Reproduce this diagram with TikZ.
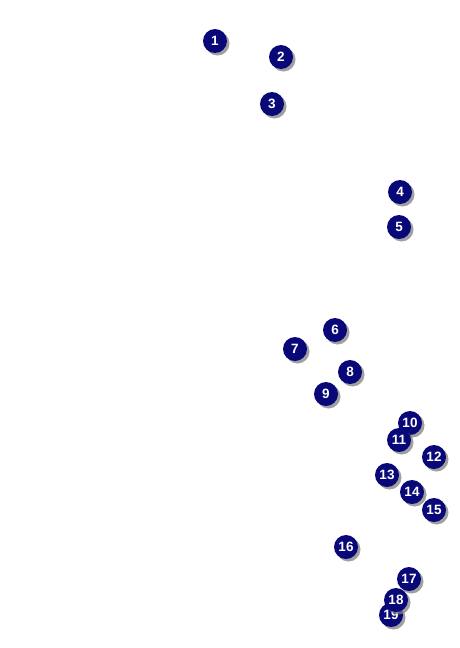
\documentclass[tikz,border=0pt]{standalone}
\usepackage{fontspec}
\setsansfont{Liberation Sans}
\usepackage{tikz}
\usetikzlibrary{shadows}

\begin{document}
\begin{tikzpicture}[
    x=1pt, y=-1pt,
    marker/.style = {circle, fill=navymark, inner sep=0pt, minimum size=24pt, text=white, font=\sffamily\bfseries\fontsize{13.5}{13.5}\selectfont, drop shadow={shadow xshift=2.5pt, shadow yshift=-2.5pt, fill=black!50, opacity=0.75}}
]
\definecolor{navymark}{RGB}{8,8,120}

\useasboundingbox (0,0) rectangle (459,648);

% Markers
\node (m1) [marker] at (215, 41) {1};
\node (m2) [marker] at (281, 57) {2};
\node (m3) [marker] at (272, 104) {3};
\node (m4) [marker] at (400, 192) {4};
\node (m5) [marker] at (399, 227) {5};
\node (m6) [marker] at (335, 330) {6};
\node (m7) [marker] at (295, 349) {7};
\node (m8) [marker] at (350, 372) {8};
\node (m9) [marker] at (326, 394) {9};
\node (m10) [marker] at (410, 423) {10};
\node (m11) [marker] at (399, 440) {11};
\node (m12) [marker] at (434, 457) {12};
\node (m13) [marker] at (387, 475) {13};
\node (m14) [marker] at (412, 492) {14};
\node (m15) [marker] at (434, 510) {15};
\node (m16) [marker] at (346, 547) {16};
\node (m17) [marker] at (409, 579) {17};
\node (m19) [marker] at (391, 615) {19};
\node (m18) [marker] at (396, 600) {18};

\end{tikzpicture}
\end{document}
